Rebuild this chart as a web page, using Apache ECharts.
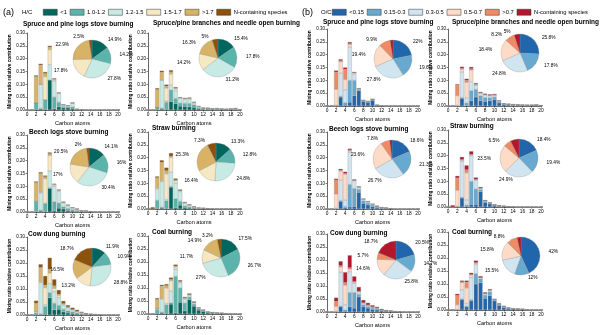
<!DOCTYPE html>
<html>
<head>
<meta charset="utf-8">
<script src="https://cdn.jsdelivr.net/npm/echarts@6.0.0/dist/echarts.min.js"></script>
<style>
  html, body { margin: 0; padding: 0; background: #fff; }
  #chart { width: 600px; height: 335px; }
</style>
</head>
<body>
<div id="chart"></div>
<script>
// carbon numbers on the x axis
const carbonAtoms = [1, 2, 3, 4, 5, 6, 7, 8, 9, 10, 11, 12, 13, 14, 15, 16, 17, 18, 19, 20];

const hcClasses = ['<1', '1.0-1.2', '1.2-1.5', '1.5-1.7', '>1.7', 'N-containing species'];
// trailing space keeps the (b) legend entry apart from the (a) one
const ocClasses = ['<0.15', '0.15-0.3', '0.3-0.5', '0.5-0.7', '>0.7', 'N-containing species '];

const sourceTitles = [
  'Spruce and pine logs stove burning',
  'Spruce/pine branches and needle open burning',
  'Beech logs stove burning',
  'Straw burning',
  'Cow dung burning',
  'Coal burning'
];

// (a) H/C classes, one row per class, C1..C20
const spruceLogsHC = [
  [0, 0, .004, .002, .117, .005, .012, .008, .008, .006, .001, .001, 0, 0, 0, 0, 0, 0, 0, 0],
  [0, .028, .002, .038, 0, .045, .018, .006, .004, .006, .001, 0, 0, 0, 0, 0, 0, 0, 0, 0],
  [0, 0, .094, 0, .06, .063, .035, .006, .005, .014, .001, 0, 0, 0, 0, 0, 0, 0, 0, 0],
  [0, 0, 0, .09, .058, .005, .002, .001, 0, .002, 0, 0, 0, 0, 0, 0, 0, 0, 0, 0],
  [0, .102, .075, .012, .01, .003, 0, 0, 0, 0, 0, 0, 0, 0, 0, 0, 0, 0, 0, 0],
  [0, .005, .005, .006, .005, .003, .001, .001, .001, 0, 0, 0, 0, 0, 0, 0, 0, 0, 0, 0]
];
const spruceBranchesHC = [
  [0, 0, .004, .002, .033, .025, .015, .014, .012, .01, .005, .003, .003, .002, .002, .002, .001, .002, .002, .001],
  [0, .01, .003, .028, .045, .02, .012, .012, .014, .01, .004, .002, .002, .002, .002, .001, .001, .001, .002, 0],
  [0, 0, .11, .005, .02, .03, .018, .016, .016, .008, .004, .002, .002, .001, .002, .001, .001, .001, .002, 0],
  [0, 0, 0, .05, .042, .008, .003, .003, .004, .002, .001, .001, 0, 0, 0, 0, 0, 0, 0, 0],
  [0, .07, .03, .008, .008, .002, 0, 0, 0, 0, 0, 0, 0, 0, 0, 0, 0, 0, 0, 0],
  [0, .005, .006, .006, .007, .004, .002, .002, .002, .001, .001, 0, 0, 0, 0, 0, 0, 0, 0, 0]
];
const beechHC = [
  [0, .002, .004, .002, .092, .005, .015, .012, .006, .004, .003, .002, .001, .001, 0, 0, 0, 0, 0, 0],
  [0, .038, .003, .03, .003, .035, .02, .008, .008, .005, .003, .001, .001, 0, 0, 0, 0, 0, 0, 0],
  [0, .002, .068, .003, .065, .06, .045, .016, .011, .007, .005, .002, .002, .001, 0, 0, 0, 0, 0, 0],
  [0, 0, .002, .095, .06, .006, .005, .002, .002, .001, .001, 0, 0, 0, 0, 0, 0, 0, 0, 0],
  [0, .073, .073, .007, .007, .002, 0, 0, 0, 0, 0, 0, 0, 0, 0, 0, 0, 0, 0, 0],
  [0, .004, .005, .005, .005, .002, .002, .002, .001, .001, 0, 0, 0, 0, 0, 0, 0, 0, 0, 0]
];
const strawHC = [
  [0, .002, .004, .002, .085, .005, .015, .006, .004, .003, .001, .001, .001, 0, 0, 0, 0, 0, 0, 0],
  [0, .032, .003, .03, .003, .035, .015, .006, .004, .002, .001, .001, 0, 0, 0, 0, 0, 0, 0, 0],
  [0, .045, .1, .005, .055, .06, .038, .011, .007, .004, .002, .001, .001, .001, 0, 0, 0, 0, 0, 0],
  [0, .003, .003, .1, .058, .01, .004, .002, .001, 0, 0, 0, 0, 0, 0, 0, 0, 0, 0, 0],
  [0, .04, .072, .012, .005, .003, 0, 0, 0, 0, 0, 0, 0, 0, 0, 0, 0, 0, 0, 0],
  [.007, .005, .008, .012, .012, .006, .004, .002, .002, .001, 0, 0, 0, 0, 0, 0, 0, 0, 0, 0]
];
const cowDungHC = [
  [0, 0, .002, .003, .066, .02, .022, .012, .008, .006, .004, .003, .002, .001, .001, .001, 0, 0, 0, 0],
  [0, .008, .003, .03, .02, .025, .015, .01, .008, .006, .004, .002, .001, .001, 0, 0, 0, 0, 0, 0],
  [0, .005, .12, .007, .035, .045, .03, .016, .012, .008, .006, .004, .002, .001, .001, 0, 0, 0, 0, 0],
  [0, 0, .003, .065, .04, .012, .008, .004, .002, .002, .001, .001, 0, 0, 0, 0, 0, 0, 0, 0],
  [0, .032, .055, .01, .015, .01, .005, .002, .001, 0, 0, 0, 0, 0, 0, 0, 0, 0, 0, 0],
  [0, .01, .012, .035, .044, .025, .016, .01, .007, .006, .005, .002, .002, .001, .001, .001, 0, 0, 0, 0]
];
const coalHC = [
  [0, 0, .004, .002, .038, .005, .045, .012, .055, .03, .015, .01, .005, .003, .002, .002, .001, 0, 0, 0],
  [0, .018, .003, .033, .005, .14, .055, .03, .01, .008, .005, .003, .002, .002, .001, .001, 0, 0, 0, 0],
  [0, .004, .05, .005, .045, .028, .02, .015, .008, .006, .003, .002, .001, .001, .001, 0, 0, 0, 0, 0],
  [0, 0, .003, .06, .04, .008, .004, .004, .002, .001, .001, 0, 0, 0, 0, 0, 0, 0, 0, 0],
  [0, .034, .047, .009, .005, .003, .001, .001, 0, 0, 0, 0, 0, 0, 0, 0, 0, 0, 0, 0],
  [0, .005, .005, .006, .007, .006, .005, .004, .004, .003, .001, .001, 0, 0, 0, 0, 0, 0, 0, 0]
];

// (b) O/C classes
const spruceLogsOC = [
  [0, 0, .035, .003, .015, .04, .06, .018, .014, .022, .002, .001, 0, 0, 0, 0, 0, 0, 0, 0],
  [0, 0, .003, .01, .085, .06, .005, .002, .002, .002, .001, 0, 0, 0, 0, 0, 0, 0, 0, 0],
  [0, .003, .09, .05, .13, .025, .003, .002, .002, .002, 0, 0, 0, 0, 0, 0, 0, 0, 0, 0],
  [0, .062, .045, .04, .01, .005, 0, 0, 0, 0, 0, 0, 0, 0, 0, 0, 0, 0, 0, 0],
  [0, .067, .003, .04, .003, 0, 0, 0, 0, 0, 0, 0, 0, 0, 0, 0, 0, 0, 0, 0],
  [0, .006, .006, .007, .006, .003, .001, 0, 0, 0, 0, 0, 0, 0, 0, 0, 0, 0, 0, 0]
];
const spruceBranchesOC = [
  [0, 0, .03, .002, .02, .035, .02, .018, .02, .025, .012, .005, .004, .003, .003, .002, .002, .002, .003, .001],
  [0, 0, .003, .01, .04, .03, .02, .015, .012, .01, .005, .003, .002, .002, .001, .001, .001, .001, .001, .001],
  [0, .002, .1, .02, .035, .015, .01, .01, .008, .007, .003, .001, .001, .001, .001, .001, 0, 0, 0, 0],
  [0, .038, .01, .06, .045, .003, .002, .002, .002, .002, .001, 0, 0, 0, 0, 0, 0, 0, 0, 0],
  [0, .042, .004, .008, .005, .002, 0, 0, 0, 0, 0, 0, 0, 0, 0, 0, 0, 0, 0, 0],
  [0, .003, .006, .006, .007, .004, .003, .003, .003, .003, .001, .001, .001, 0, 0, 0, 0, 0, 0, 0]
];
const beechOC = [
  [0, 0, .03, .005, .008, .01, .065, .022, .016, .01, .006, .003, .002, .001, 0, 0, 0, 0, 0, 0],
  [0, 0, .003, .005, .088, .07, .012, .01, .007, .005, .003, .002, .001, .001, 0, 0, 0, 0, 0, 0],
  [0, .003, .08, .025, .125, .03, .008, .006, .005, .003, .002, .001, .001, 0, 0, 0, 0, 0, 0, 0],
  [0, .055, .035, .1, .006, .002, .001, .001, .001, .001, 0, 0, 0, 0, 0, 0, 0, 0, 0, 0],
  [0, .055, .003, .004, .003, 0, 0, 0, 0, 0, 0, 0, 0, 0, 0, 0, 0, 0, 0, 0],
  [0, .005, .005, .006, .005, .003, .002, .001, .001, .001, .001, 0, 0, 0, 0, 0, 0, 0, 0, 0]
];
const strawOC = [
  [0, 0, .035, .003, .01, .01, .06, .018, .012, .006, .003, .002, .001, .001, 0, 0, 0, 0, 0, 0],
  [0, 0, .003, .005, .09, .06, .008, .004, .003, .002, .001, .001, .001, 0, 0, 0, 0, 0, 0, 0],
  [0, .003, .14, .02, .1, .035, .005, .003, .002, .001, .001, 0, 0, 0, 0, 0, 0, 0, 0, 0],
  [0, .062, .005, .105, .003, .003, .001, 0, 0, 0, 0, 0, 0, 0, 0, 0, 0, 0, 0, 0],
  [0, .048, .002, .012, .002, 0, 0, 0, 0, 0, 0, 0, 0, 0, 0, 0, 0, 0, 0, 0],
  [.007, .008, .01, .017, .012, .007, .004, .002, .001, .001, 0, 0, 0, 0, 0, 0, 0, 0, 0, 0]
];
const cowDungOC = [
  [0, 0, .02, .003, .02, .015, .058, .02, .015, .01, .008, .005, .003, .002, .001, .001, 0, 0, 0, 0],
  [0, 0, .003, .005, .055, .06, .01, .008, .006, .005, .004, .002, .001, .001, .001, 0, 0, 0, 0, 0],
  [0, .003, .13, .02, .08, .035, .01, .006, .005, .004, .003, .002, .001, .001, 0, 0, 0, 0, 0, 0],
  [0, .018, .02, .075, .01, .005, .002, .002, .001, .001, .001, 0, 0, 0, 0, 0, 0, 0, 0, 0],
  [0, .02, .005, .01, .005, .002, 0, 0, 0, 0, 0, 0, 0, 0, 0, 0, 0, 0, 0, 0],
  [0, .014, .017, .04, .048, .02, .016, .01, .008, .006, .004, .003, .002, .001, .001, .001, 0, 0, 0, 0]
];
const coalOC = [
  [0, 0, .04, .012, .035, .1, .105, .045, .055, .035, .018, .01, .005, .004, .003, .002, .001, 0, 0, 0],
  [0, 0, .003, .003, .005, .04, .015, .012, .015, .004, .004, .003, .002, .001, .001, .001, 0, 0, 0, 0],
  [0, .002, .035, .01, .085, .035, .005, .006, .006, .002, .002, .001, .001, 0, 0, 0, 0, 0, 0, 0],
  [0, .018, .028, .06, .01, .005, 0, .001, .001, 0, 0, 0, 0, 0, 0, 0, 0, 0, 0, 0],
  [0, .036, .002, .022, .002, .002, 0, 0, 0, 0, 0, 0, 0, 0, 0, 0, 0, 0, 0, 0],
  [0, .006, .005, .006, .006, .008, .005, .004, .003, .001, .001, .001, 0, 0, 0, 0, 0, 0, 0, 0]
];

// pie percentages, same class order
const spruceLogsHCPie = [14.9, 14.2, 27.8, 17.8, 22.9, 2.5];
const spruceBranchesHCPie = [15.4, 17.8, 31.2, 14.2, 16.3, 5];
const beechHCPie = [14.1, 16, 30.4, 17, 20.5, 2];
const strawHCPie = [13.3, 12.8, 24.8, 16.4, 25.3, 7.3];
const cowDungHCPie = [11.9, 10.9, 28.8, 13.2, 16.5, 18.7];
const coalHCPie = [17.5, 26.7, 27, 11.7, 14.9, 3.2];
const spruceLogsOCPie = [22, 19.6, 27.8, 19.4, 9.9, 2.5];
const spruceBranchesOCPie = [25.8, 17.8, 24.8, 18.4, 8.2, 5];
const beechOCPie = [18.6, 21.3, 26.7, 23.6, 7.8, 2];
const strawOCPie = [18.4, 19.4, 24.9, 23.5, 6.5, 7.3];
const cowDungOCPie = [20.5, 14.7, 25.8, 14.6, 5.7, 18.7];
const coalOCPie = [42, 12, 15.5, 15.8, 8.8, 3.2];

const hcColors = ['#01665e', '#5ab4ac', '#c7eae5', '#f6e8c3', '#d8b365', '#8c510a'];
const ocColors = ['#2166ac', '#67a9cf', '#d1e5f0', '#fddbc7', '#ef8a62', '#b2182b'];

// subplot list: data + layout (grid box, title anchor, pie centre)
const panels = [
  { bars: spruceLogsHC, pie: spruceLogsHCPie, t: 0, oc: false, grid: [27, 33, 91, 77], title: [23, 25], pc: [92, 59] },
  { bars: spruceBranchesHC, pie: spruceBranchesHCPie, t: 1, oc: false, grid: [148, 33, 92, 77], title: [153, 24], pc: [218, 58] },
  { bars: beechHC, pie: beechHCPie, t: 2, oc: false, grid: [27, 135, 91, 77], title: [29, 133], pc: [89, 167] },
  { bars: strawHC, pie: strawHCPie, t: 3, oc: false, grid: [148, 132, 92, 77], title: [152, 129], pc: [216, 162] },
  { bars: cowDungHC, pie: cowDungHCPie, t: 4, oc: false, grid: [27, 237, 91, 78], title: [28, 235], pc: [92, 267] },
  { bars: coalHC, pie: coalHCPie, t: 5, oc: false, grid: [148, 236, 92, 78], title: [152, 233], pc: [221, 258] },
  { bars: spruceLogsOC, pie: spruceLogsOCPie, t: 0, oc: true, grid: [327, 29, 91, 77], title: [323, 23], pc: [393, 59] },
  { bars: spruceBranchesOC, pie: spruceBranchesOCPie, t: 1, oc: true, grid: [448, 29, 93, 77], title: [452, 23], pc: [520, 53] },
  { bars: beechOC, pie: beechOCPie, t: 2, oc: true, grid: [327, 132, 91, 77], title: [329, 130], pc: [392, 159] },
  { bars: strawOC, pie: strawOCPie, t: 3, oc: true, grid: [448, 130, 93, 77], title: [450, 127], pc: [519, 158] },
  { bars: cowDungOC, pie: cowDungOCPie, t: 4, oc: true, grid: [327, 234, 91, 78], title: [330, 234], pc: [396, 260] },
  { bars: coalOC, pie: coalOCPie, t: 5, oc: true, grid: [448, 232, 93, 78], title: [452, 233], pc: [521, 256] }
];

const FONT = 'Liberation Sans';
const titleSize = 6.5;
// category slots 0..20 so that ticks sit on whole carbon numbers
const xCategories = [0].concat(carbonAtoms).map(String);

const grids = [], xAxes = [], yAxes = [], series = [];
const titles = [
  { text: '(a)', left: 3, top: 8, padding: 0, textStyle: { fontFamily: FONT, fontSize: 9, fontWeight: 'normal', color: '#000' } },
  { text: 'H/C', left: 22, top: 9, padding: 0, textStyle: { fontFamily: FONT, fontSize: 6, fontWeight: 'normal', color: '#000' } },
  { text: '(b)', left: 302, top: 8, padding: 0, textStyle: { fontFamily: FONT, fontSize: 9, fontWeight: 'normal', color: '#000' } },
  { text: 'O/C', left: 321, top: 9, padding: 0, textStyle: { fontFamily: FONT, fontSize: 6, fontWeight: 'normal', color: '#000' } }
];

panels.forEach((p, k) => {
  const names = p.oc ? ocClasses : hcClasses;
  const colors = p.oc ? ocColors : hcColors;
  const [gl, gt, gw, gh] = p.grid;
  grids.push({ left: gl, top: gt, width: gw, height: gh });

  titles.push({
    text: sourceTitles[p.t], left: p.title[0], top: p.title[1] - titleSize * 0.6, padding: 0,
    textStyle: { fontFamily: FONT, fontSize: titleSize, fontWeight: 'bold', color: '#000' }
  });

  xAxes.push({
    gridIndex: k, type: 'category', data: xCategories, boundaryGap: false,
    axisLine: { show: true, onZero: false, lineStyle: { color: '#000', width: 0.6 } },
    axisTick: { show: true, interval: 1, length: 1.5, lineStyle: { color: '#000', width: 0.5 } },
    axisLabel: { fontFamily: FONT, fontSize: 4.8, color: '#000', margin: 2, interval: 1 },
    splitLine: { show: false },
    name: 'Carbon atoms', nameLocation: 'middle', nameGap: 10,
    nameTextStyle: { fontFamily: FONT, fontSize: 5.6, color: '#000' }
  });

  yAxes.push({
    gridIndex: k, type: 'value', min: 0, max: 0.3, interval: 0.05,
    axisLine: { show: true, lineStyle: { color: '#000', width: 0.6 } },
    axisTick: { show: true, length: 1.5, lineStyle: { color: '#000', width: 0.5 } },
    axisLabel: { fontFamily: FONT, fontSize: 4.5, color: '#000', margin: 2, formatter: v => v.toFixed(2) },
    splitLine: { show: false },
    name: 'Mixing ratio relative contribution', nameLocation: 'middle', nameRotate: 90, nameGap: 14,
    nameTextStyle: { fontFamily: FONT, fontSize: 4.8, fontWeight: 'bold', color: '#000' }
  });

  names.forEach((name, j) => {
    series.push({
      type: 'bar', name: name, xAxisIndex: k, yAxisIndex: k, stack: 'sub' + k,
      barWidth: 4, silent: true,
      itemStyle: { color: colors[j], borderColor: '#8a8a8a', borderWidth: 0.3 },
      data: [0].concat(p.bars[j])
    });
  });

  series.push({
    type: 'pie', center: p.pc, radius: 19, startAngle: 90, silent: true,
    avoidLabelOverlap: false,
    itemStyle: { borderColor: '#8a8a8a', borderWidth: 0.3 },
    label: { show: true, position: 'outside', formatter: '{c}%', fontFamily: FONT, fontSize: 4.8, color: '#000' },
    labelLine: { show: false, length: 3, length2: 1 },
    data: names.map((name, j) => ({ name: name, value: p.pie[j], itemStyle: { color: colors[j] } }))
  });
});

const legendStyle = {
  orient: 'horizontal', itemWidth: 14, itemHeight: 6, itemGap: 3, padding: 0,
  icon: 'rect', selectedMode: false,
  itemStyle: { borderColor: '#333', borderWidth: 0.5 },
  textStyle: { fontFamily: FONT, fontSize: 5.8, color: '#000', padding: [0, 0, 0, -2] }
};

const chart = echarts.init(document.getElementById('chart'), null, { renderer: 'canvas' });
chart.setOption({
  animation: false,
  backgroundColor: '#fff',
  title: titles,
  legend: [
    Object.assign({ left: 43, top: 9, data: hcClasses }, legendStyle),
    Object.assign({ left: 332, top: 9, data: ocClasses }, legendStyle)
  ],
  grid: grids,
  xAxis: xAxes,
  yAxis: yAxes,
  series: series
});
</script>
</body>
</html>
